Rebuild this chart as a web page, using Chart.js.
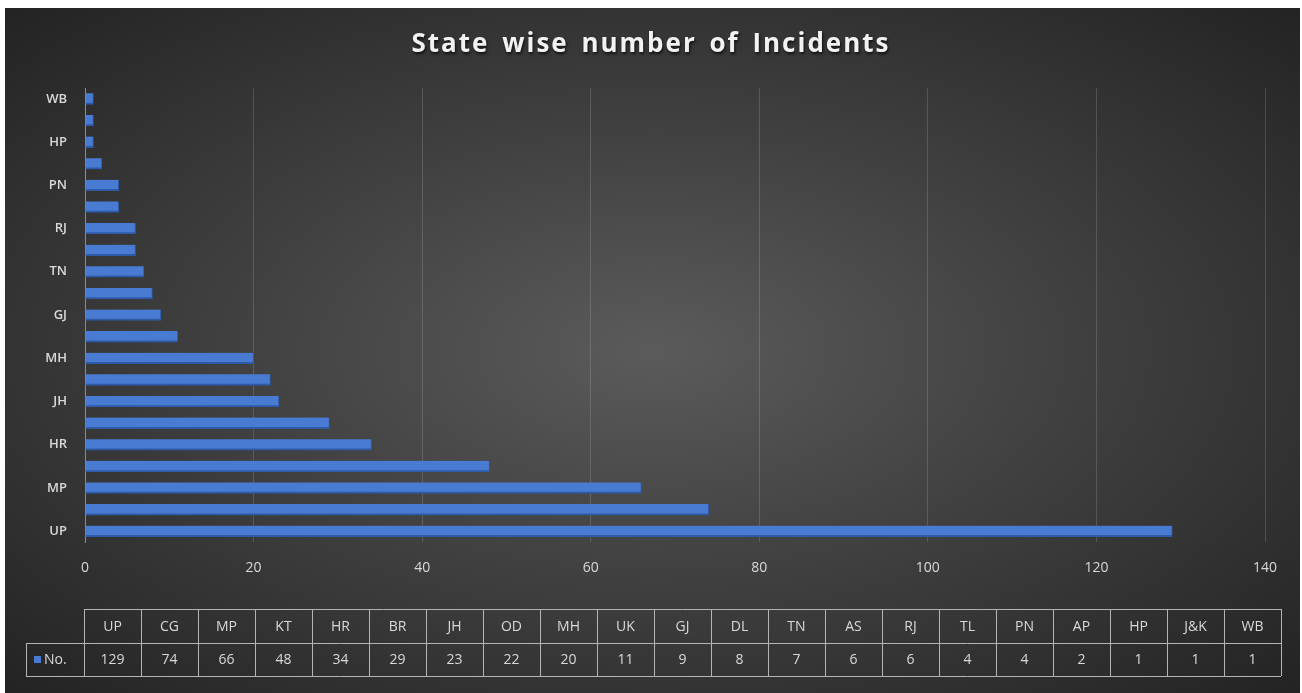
<!DOCTYPE html>
<html>
<head>
<meta charset="utf-8">
<script src="https://cdn.jsdelivr.net/npm/chart.js@4.4.1/dist/chart.umd.min.js"></script>
<style>
    html, body { margin: 0; padding: 0; background: #fff; overflow: hidden; }
    #bg {
        position: absolute; left: 5px; top: 8px; width: 1295px; height: 685px;
        background: radial-gradient(ellipse farthest-corner at 50% 50%, #5b5b5b 0%, #414141 45%, #232323 100%);
    }
    #box { position: absolute; left: 0; top: 0; width: 1302px; height: 693px; }
</style>
</head>
<body>
<div id="bg"></div>
<div id="box"><canvas id="chart"></canvas></div>
<script>
const chartTitle = 'State wise number of Incidents';
const seriesName = 'No.';
const states = ['UP', 'CG', 'MP', 'KT', 'HR', 'BR', 'JH', 'OD', 'MH', 'UK', 'GJ', 'DL', 'TN', 'AS', 'RJ', 'TL', 'PN', 'AP', 'HP', 'J&K', 'WB'];
const incidents = [129, 74, 66, 48, 34, 29, 23, 22, 20, 11, 9, 8, 7, 6, 6, 4, 4, 2, 1, 1, 1];
const xTicks = [0, 20, 40, 60, 80, 100, 120, 140];

const BAR_BLUE = '#4a7bd2';
const TEXT = '#d9d9d9';
const FONT = '"Open Sans", "Noto Sans", sans-serif';

// Title drawn by hand so it can get the letter spacing of the original
const titlePlugin = {
    id: 'bigTitle',
    afterDraw(chart) {
        const ctx = chart.ctx;
        ctx.save();
        ctx.font = 'bold 26px ' + FONT;
        if ('letterSpacing' in ctx) ctx.letterSpacing = '2px';
        if ('wordSpacing' in ctx) ctx.wordSpacing = '4px';
        ctx.fillStyle = '#f2f2f2';
        ctx.textAlign = 'center';
        ctx.textBaseline = 'middle';
        ctx.shadowColor = 'rgba(0,0,0,0.7)';
        ctx.shadowBlur = 3;
        ctx.shadowOffsetX = 1;
        ctx.shadowOffsetY = 2;
        ctx.fillText(chartTitle, 651, 45);
        ctx.restore();
    }
};

// Data table under the axis (Excel style)
const tablePlugin = {
    id: 'dataTable',
    afterDraw(chart) {
        const ctx = chart.ctx;
        const top = 609, mid = 643, bottom = 676;
        const keyLeft = 26, left = 84, colW = 57;
        const right = left + colW * states.length;
        ctx.save();
        ctx.strokeStyle = '#b4b4b4';
        ctx.lineWidth = 1;
        ctx.beginPath();
        ctx.moveTo(left, top + 0.5); ctx.lineTo(right, top + 0.5);
        ctx.moveTo(keyLeft, mid + 0.5); ctx.lineTo(right, mid + 0.5);
        ctx.moveTo(keyLeft, bottom + 0.5); ctx.lineTo(right, bottom + 0.5);
        ctx.moveTo(keyLeft + 0.5, mid); ctx.lineTo(keyLeft + 0.5, bottom);
        for (let i = 0; i <= states.length; i++) {
            const x = left + i * colW + 0.5;
            ctx.moveTo(x, top); ctx.lineTo(x, bottom);
        }
        ctx.stroke();

        ctx.font = '14px ' + FONT;
        ctx.fillStyle = TEXT;
        ctx.textAlign = 'center';
        ctx.textBaseline = 'middle';
        states.forEach((s, i) => {
            const cx = left + i * colW + colW / 2;
            ctx.fillText(s, cx, (top + mid) / 2 + 1);
            ctx.fillText(String(incidents[i]), cx, (mid + bottom) / 2 + 1);
        });

        ctx.fillStyle = BAR_BLUE;
        ctx.fillRect(34, 656, 7, 7);
        ctx.fillStyle = TEXT;
        ctx.textAlign = 'left';
        ctx.fillText(seriesName, 44, (mid + bottom) / 2 + 1);
        ctx.restore();
    }
};

new Chart(document.getElementById('chart'), {
    type: 'bar',
    data: {
        labels: states,
        datasets: [{
            label: seriesName,
            data: incidents,
            backgroundColor: BAR_BLUE,
            borderColor: '#2f5aa8',
            borderWidth: { top: 0, left: 0, right: 1, bottom: 2 },
            barThickness: 11
        }]
    },
    options: {
        indexAxis: 'y',
        responsive: true,
        maintainAspectRatio: false,
        animation: false,
        layout: { padding: { left: 0, right: 37, top: 88, bottom: 0 } },
        plugins: {
            legend: { display: false },
            title: { display: false },
            tooltip: { enabled: false }
        },
        scales: {
            x: {
                min: 0,
                max: 140,
                afterBuildTicks: s => { s.ticks = xTicks.map(v => ({ value: v })); },
                afterFit: s => { s.height = 151; },
                grid: { color: 'rgba(255,255,255,0.15)', drawTicks: false },
                border: { display: false },
                ticks: { color: TEXT, padding: 18, font: { family: FONT, size: 14 } }
            },
            y: {
                reverse: true,
                afterFit: s => { s.width = 85; },
                grid: { display: false, drawTicks: false },
                border: { display: true, color: '#8c8c8c', width: 1 },
                ticks: {
                    color: TEXT,
                    padding: 18,
                    autoSkip: false,
                    font: { family: FONT, size: 13, weight: '600' },
                    callback: (v, i) => (i % 2 === 0 ? states[i] : '')
                }
            }
        }
    },
    plugins: [titlePlugin, tablePlugin]
});
</script>
</body>
</html>
